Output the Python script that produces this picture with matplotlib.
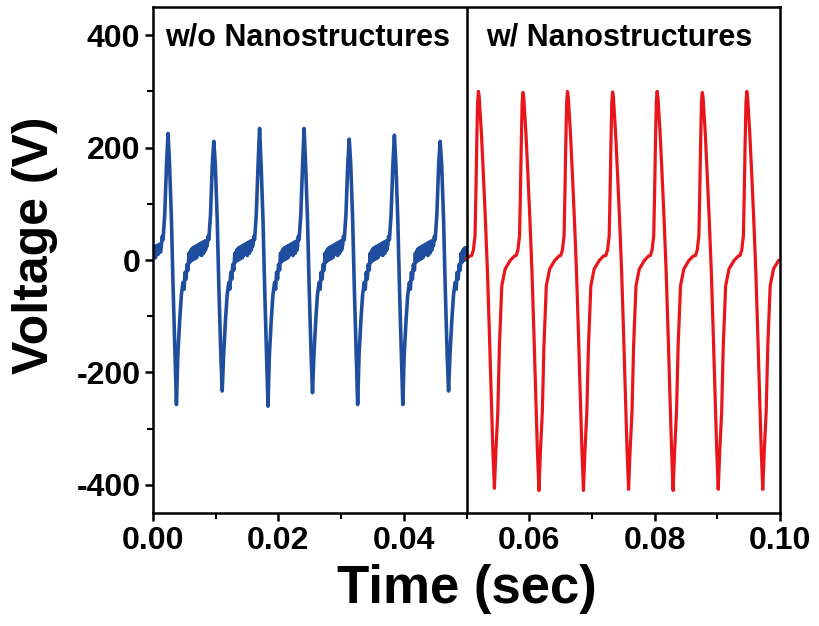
import numpy as np
import matplotlib
matplotlib.use("Agg")
from matplotlib import pyplot as plt
from matplotlib.ticker import MultipleLocator, FormatStrFormatter

plt.rcParams['font.family'] = ['Liberation Sans', 'DejaVu Sans']
plt.rcParams['font.weight'] = 'bold'
plt.rcParams['axes.unicode_minus'] = False

# pulse peaks (time in s, voltage in V)
blue_peak_t = [0.0024, 0.0097, 0.0170, 0.0241, 0.0313, 0.0385, 0.0458]
blue_peak_v = [225, 211, 234, 234, 215, 222, 211]
blue_trough_v = [-257, -233, -260, -236, -257, -257, -233]

red_peak_t = [0.0519, 0.0590, 0.0661, 0.0733, 0.0804, 0.0876, 0.0947]
red_peak_v = [300, 298, 300, 299, 300, 298, 300]
red_trough_v = [-406, -410, -410, -408, -410, -408, -408]

# one traced pulse: offset from the peak (ms) and voltage, 'P'/'T' = peak/trough
blue_shape_ms = [-1.07, -0.93, -0.80, -0.53, -0.24, 0.0, 0.24, 0.54, 0.80, 1.12,
                 1.34, 1.56, 1.87, 2.13, 2.39, 2.55, 2.71, 2.87, 3.03, 3.19,
                 3.35, 3.43, 3.51, 3.59, 3.67, 3.75, 3.83, 3.91, 3.99, 4.07,
                 4.15, 4.23, 4.31, 4.39, 4.47, 4.55, 4.63, 4.71, 4.79, 4.87,
                 4.95, 5.03, 5.11, 5.19, 5.27, 5.35, 5.43, 5.51, 5.58, 5.66,
                 5.74, 5.82, 5.90, 5.98, 6.06]
blue_shape_v = [25, 42, 36, 80, 170, 'P', 170, 73, -46, -170,
                'T', -170, -105, -62, -40, -52, -22, -34, -8, -18,
                12, -4, 14, -2, 18, 2, 20, 0, 22, 6,
                16, 2, 24, 8, 20, 4, 26, 8, 22, 10,
                28, 10, 24, 12, 30, 8, 26, 14, 32, 12,
                30, 16, 34, 18, 26]

red_shape_ms = [-1.07, -0.80, -0.54, -0.40, -0.27, -0.13, 0.0, 0.13, 0.48, 0.80,
                1.12, 1.44, 1.75, 2.07, 2.31, 2.55, 2.79, 3.09, 3.35, 3.73,
                4.26, 5.06, 5.74]
red_shape_v = [8, 18, 43, 120, 204, 280, 'P', 290, 225, 150,
               70, -20, -130, -250, -340, 'T', -340, -271, -153, -46,
               -16, -1, 7]

# start of each trace before the first pulse
blue_lead_t = [0.0, 0.0002, 0.0004, 0.0006, 0.0008, 0.0010, 0.0012]
blue_lead_v = [8, 24, 4, 26, 10, 28, 14]
red_lead_t = [0.0500, 0.0504]
red_lead_v = [2, 6]


def build(peak_t, peak_v, trough_v, shape_ms, shape_v, lead_t, lead_v, t0, t1):
    t = list(lead_t)
    v = list(lead_v)
    for tp, pv, tv in zip(peak_t, peak_v, trough_v):
        for dt, sv in zip(shape_ms, shape_v):
            t.append(tp + dt / 1000.0)
            if sv == 'P':
                v.append(pv)
            elif sv == 'T':
                v.append(tv)
            else:
                v.append(sv)
    t = np.array(t)
    v = np.array(v, dtype=float)
    keep = (t >= t0) & (t <= t1)
    return t[keep], v[keep]


bt, bv = build(blue_peak_t, blue_peak_v, blue_trough_v, blue_shape_ms, blue_shape_v,
               blue_lead_t, blue_lead_v, 0.0, 0.05)
rt, rv = build(red_peak_t, red_peak_v, red_trough_v, red_shape_ms, red_shape_v,
               red_lead_t, red_lead_v, 0.05, 0.1)

fig = plt.figure(figsize=(8.19, 6.26), dpi=100)
ax = fig.add_axes([0.1868, 0.1805, 0.7656, 0.8083])

ax.plot(bt, bv, color='#1f4e9e', lw=2.6)
ax.plot(rt, rv, color='#e8161b', lw=2.3)
ax.axvline(0.05, color='black', lw=1.8)

ax.text(0.0246, 395, 'w/o Nanostructures', ha='center', va='center',
        fontsize=22, fontweight='bold')
ax.text(0.0744, 395, 'w/ Nanostructures', ha='center', va='center',
        fontsize=22, fontweight='bold')

ax.set_xlim(0, 0.1)
ax.set_ylim(-450, 450)
ax.xaxis.set_major_locator(MultipleLocator(0.02))
ax.xaxis.set_minor_locator(MultipleLocator(0.01))
ax.yaxis.set_major_locator(MultipleLocator(200))
ax.yaxis.set_minor_locator(MultipleLocator(100))
ax.xaxis.set_major_formatter(FormatStrFormatter('%.2f'))
ax.yaxis.set_major_formatter(FormatStrFormatter('%d'))

for s in ax.spines.values():
    s.set_linewidth(1.8)
ax.tick_params(axis='both', which='major', direction='out', length=6, width=1.8,
               labelsize=23, pad=3)
ax.tick_params(axis='both', which='minor', direction='out', length=4, width=1.5)

ax.set_xlabel('Time (sec)', fontsize=38, fontweight='bold')
ax.set_ylabel('Voltage (V)', fontsize=36, fontweight='bold')
ax.xaxis.set_label_coords(0.5, -0.10)
ax.yaxis.set_label_coords(-0.152, 0.53)

fig.savefig('out.png', dpi=100)
